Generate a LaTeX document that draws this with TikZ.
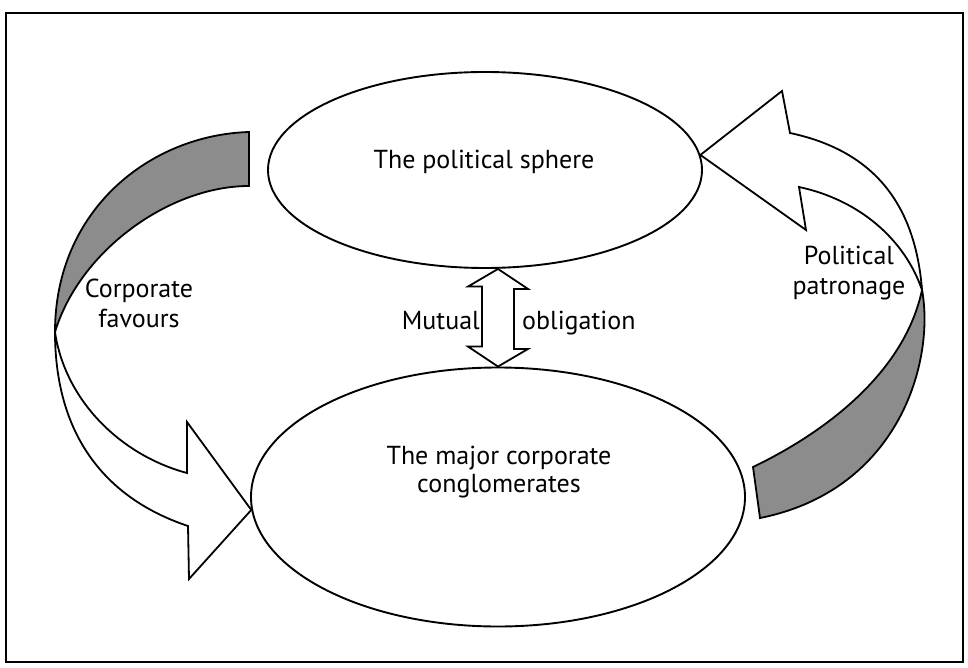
\documentclass[tikz,border=0pt]{standalone}
\usepackage{fontspec}
\setmainfont{PT Sans}
\usetikzlibrary{shapes.geometric}
\definecolor{shade}{gray}{0.55}
\tikzset{
	sphere/.style={draw, ellipse, line width=1.9pt, inner sep=0pt},
	band/.style={draw, line width=1.8pt, line join=miter},
	lbl/.style={font=\fontsize{26}{30}\selectfont, align=center, inner sep=0pt, anchor=base},
}
\begin{document}
\begin{tikzpicture}[x=1pt, y=-1pt]
	\useasboundingbox (0,0) rectangle (968,668);
	\draw[line width=2.4pt] (6,13) rectangle (963,662);

	\node[sphere, minimum width=434pt, minimum height=196pt] (polit) at (485,170) {};
	\node[sphere, minimum width=494pt, minimum height=259pt] (corp) at (498,497) {};

	\coordinate (M) at (polit.south -| corp.north);
	\coordinate (LT) at (55,332);
	\coordinate (RT) at (922,290);

	% mutual obligation
	\draw[band, fill=white] (M) -- ++(30,20) -- ++(-14,0) -- ++(0,60) -- ++(14,0) -- (corp.north)
		-- ++(-30,-20) -- ++(14,0) -- ++(0,-60) -- ++(-14,0) -- cycle;

	% corporate favours
	\draw[band, fill=shade] (249,132) .. controls (150,135) and (55,210) .. (LT)
		.. controls (80,250) and (170,186) .. (249,186) -- cycle;
	\draw[band, fill=white] (LT) .. controls (65,400) and (120,455) .. (187,473) -- (187,422)
		-- (corp.183) -- (189,579) -- (188,526) .. controls (110,500) and (55,440) .. cycle;

	% political patronage
	\draw[band, fill=shade] (760,518) .. controls (900,490) and (935,360) .. (RT)
		.. controls (905,370) and (830,430) .. (753,467) -- cycle;
	\draw[band, fill=white] (RT) .. controls (915,200) and (870,150) .. (790,133) -- (782,91)
		-- (polit.4) -- (806,230) -- (799,187) .. controls (860,200) and (905,240) .. cycle;

	\node[lbl] (politlbl) at (484,169) {The political sphere};
	\node[lbl, font=\fontsize{26}{28}\selectfont] (corplbl) at (499,492) {The major corporate\\conglomerates};
	\node[lbl] (favlbl) at (139,327) {Corporate\\favours};
	\node[lbl] (patlbl) at (849,294) {Political\\patronage};
	\node[lbl, anchor=base east] (mutlbl) at (480,329) {Mutual};
	\node[lbl, anchor=base west] (obllbl) at (522,329) {obligation};
\end{tikzpicture}
\end{document}
